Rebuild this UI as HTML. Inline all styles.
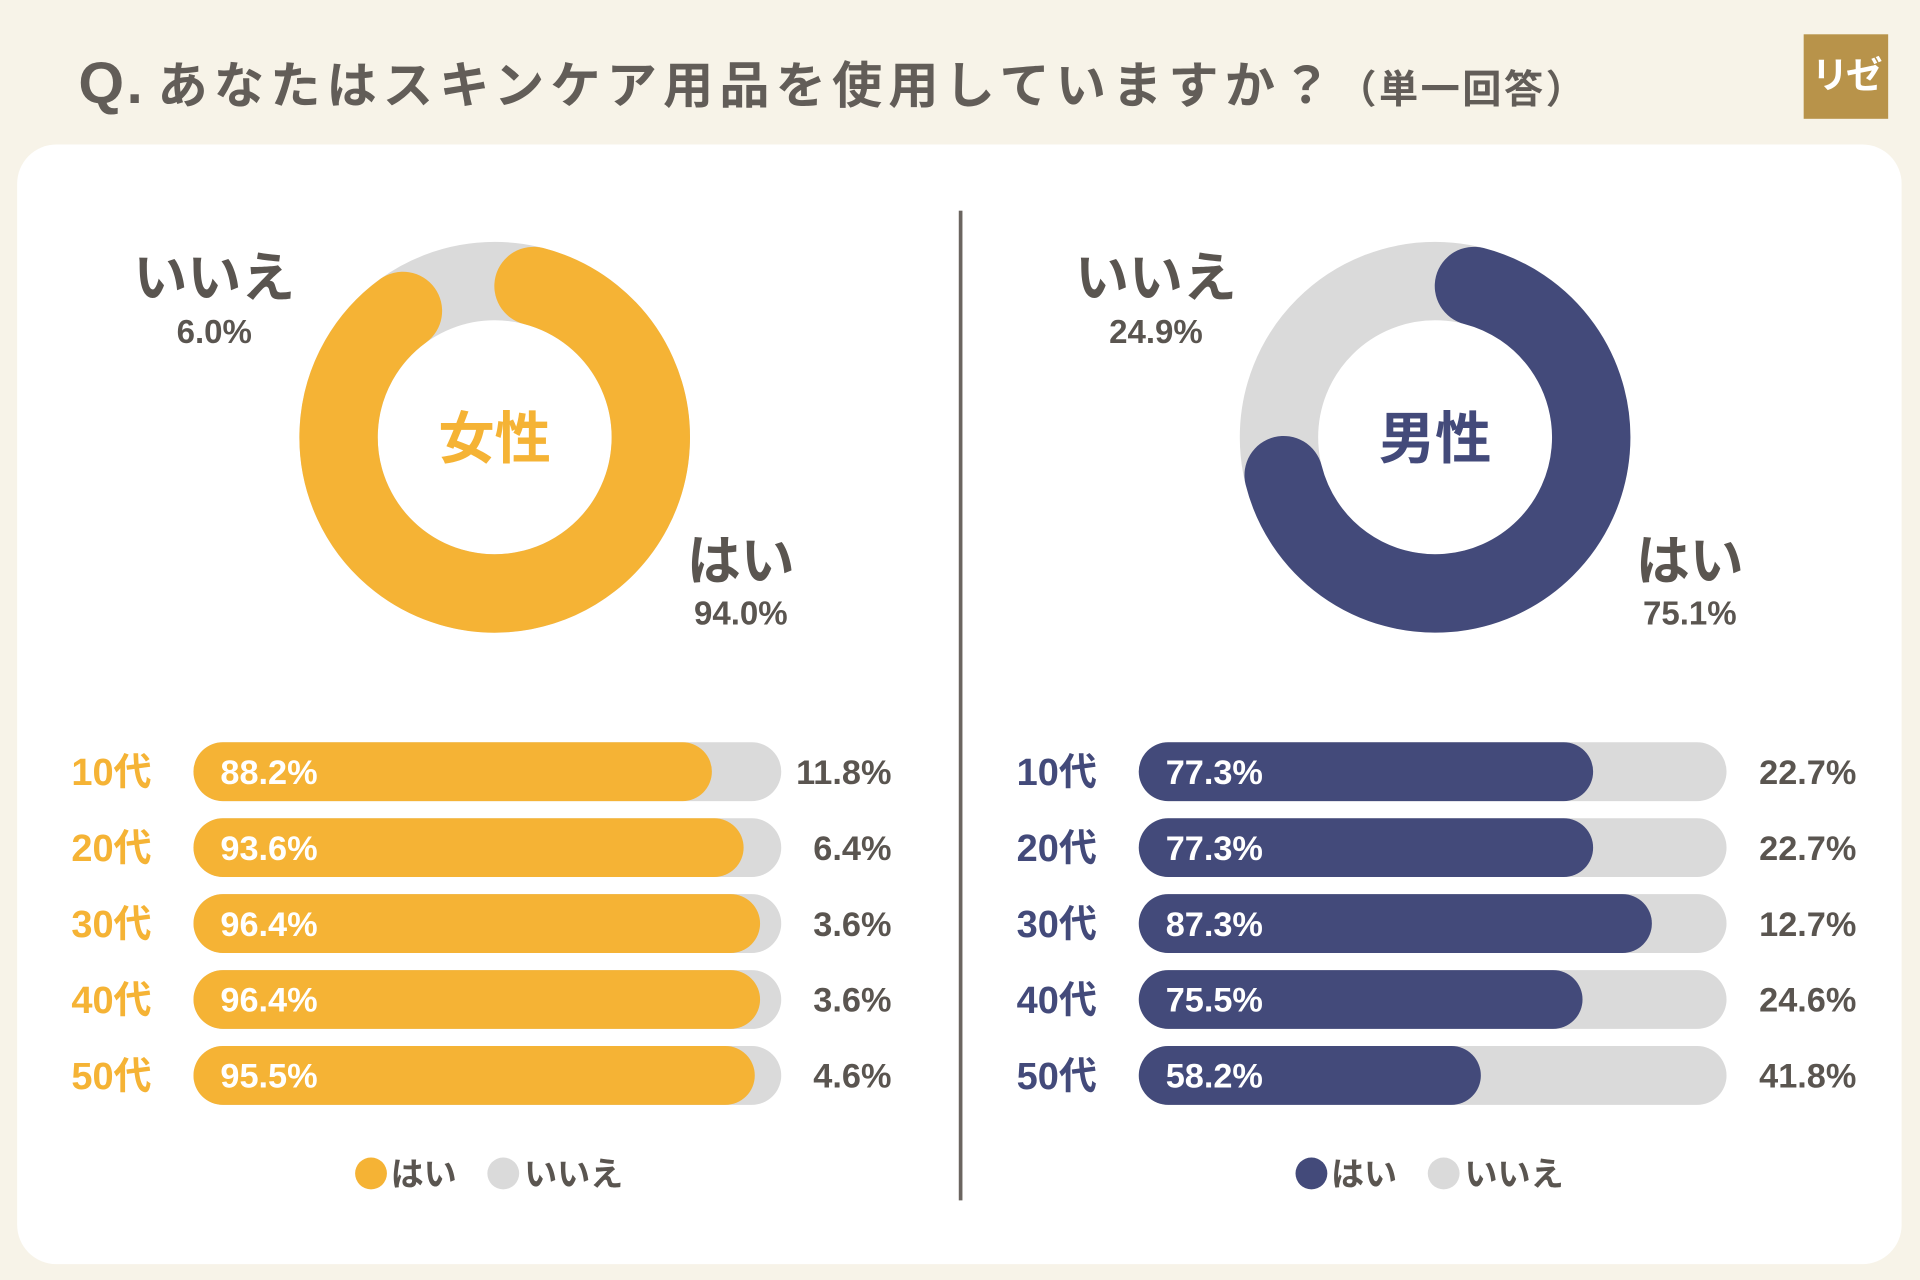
<!DOCTYPE html>
<html><head><meta charset="utf-8"><style>
html,body{margin:0;padding:0;width:1920px;height:1280px;overflow:hidden;background:#f7f3e8;}
#wrap{position:absolute;left:0;top:0;width:1568px;height:1045px;transform:scale(1.22449,1.22488);transform-origin:0 0;font-family:"Liberation Sans","Noto Sans CJK JP",sans-serif;color:#5a5550;}
.abs{position:absolute;white-space:nowrap;}
</style></head><body>
<div id="wrap">
  <div class="abs" style="left:64px;top:36px;font-size:41px;font-weight:bold;letter-spacing:5px;color:#625d58;"><span style="font-size:48px;letter-spacing:2px;margin-right:10px">Q.</span>あなたはスキンケア用品を使用していますか？<span style="font-size:32px;letter-spacing:2px">（単一回答）</span></div>
  <div class="abs" style="left:1473px;top:28px;width:69px;height:69px;background:#b8934a;color:#fff;font-size:30px;font-weight:bold;text-align:center;line-height:69px;letter-spacing:-2px;">リゼ</div>
  <div class="abs" style="left:14px;top:118px;width:1539px;height:914px;background:#fff;border-radius:32px;"></div>
  <div class="abs" style="left:783px;top:172px;width:3px;height:808px;background:#6b6560;"></div>
  <svg id="chart" class="abs" style="left:0;top:0" width="1568" height="1045"></svg>
</div>
<script>
const genders = ["女性","男性"];
const donutYes = [94.0, 75.1];
const donutNo = [6.0, 24.9];
const ageLabels = ["10代","20代","30代","40代","50代"];
const femaleYes = [88.2, 93.6, 96.4, 96.4, 95.5];
const femaleNo = [11.8, 6.4, 3.6, 3.6, 4.6];
const maleYes = [77.3, 77.3, 87.3, 75.5, 58.2];
const maleNo = [22.7, 22.7, 12.7, 24.6, 41.8];

const NS="http://www.w3.org/2000/svg";
const svg=document.getElementById('chart');
const FONT='"Liberation Sans","Noto Sans CJK JP",sans-serif';
function mk(tag,attrs,parent){const e=document.createElementNS(NS,tag);for(const k in attrs)e.setAttribute(k,attrs[k]);(parent||svg).appendChild(e);return e;}
function txt(s,x,y,size,fill,anchor){const t=mk('text',{x:x,y:y,'font-size':size,'font-weight':'bold',fill:fill,'text-anchor':anchor||'start','font-family':FONT});t.textContent=s;return t;}
const colors=["#f5b335","#434a7a"], gray="#dadada", textC="#5a5550";
const panels=[
 {cx:404,cy:357,noX:175,yesX:605,trackX:158,labX:91,rightX:728,yes:femaleYes,no:femaleNo,legX:303},
 {cx:1172,cy:357,noX:944,yesX:1380,trackX:930,labX:863,rightX:1516,yes:maleYes,no:maleNo,legX:1071}
];
const R=127.5, SW=64, trackW=480, barH=48, rowY0=630, rowStep=62;
const capPct = 4;
function angPt(cx,cy,r,pct){const a=(pct/100)*2*Math.PI-Math.PI/2;return [cx+r*Math.cos(a),cy+r*Math.sin(a)];}
panels.forEach((p,i)=>{
  const c=mk('circle',{cx:p.cx,cy:p.cy,r:R,fill:'none',stroke:gray,'stroke-width':SW});
  
  
  const pct=donutYes[i];
  const a0=capPct, a1=pct-capPct;
  const s=angPt(p.cx,p.cy,R,a0), e=angPt(p.cx,p.cy,R,a1);
  const arc=mk('path',{d:`M${s[0]},${s[1]} A${R},${R} 0 ${(a1-a0)>50?1:0} 1 ${e[0]},${e[1]}`,fill:'none',stroke:colors[i],'stroke-width':SW,'stroke-linecap':'round'});
  
  
  const g=txt(genders[i],p.cx,p.cy+17,46,colors[i],'middle');
  
  
  let t=txt('いいえ',p.noX,p.cy-115,44,textC,'middle');
  
  
  t=txt(donutNo[i].toFixed(1)+'%',p.noX,p.cy-77,27,textC,'middle');
  
  
  t=txt('はい',p.yesX,p.cy+116,44,textC,'middle');
  
  
  t=txt(donutYes[i].toFixed(1)+'%',p.yesX,p.cy+153,27,textC,'middle');
  
  
  ageLabels.forEach((a,j)=>{
    const y=rowY0+j*rowStep;
    let l=txt(a,p.labX,y+11,31,colors[i],'middle');
    
    
    const tr=mk('rect',{x:p.trackX,y:y-barH/2,width:trackW,height:barH,rx:barH/2,fill:gray});
    
    
    const b=mk('rect',{x:p.trackX,y:y-barH/2,width:trackW*p.yes[j]/100,height:barH,rx:barH/2,fill:colors[i]});
    
    
    l=txt(p.yes[j].toFixed(1)+'%',p.trackX+22,y+10,28,'#fff','start');
    
    
    l=txt(p.no[j].toFixed(1)+'%',p.rightX,y+10,28,textC,'end');
    
    
  });
  let lc=mk('circle',{cx:p.legX,cy:958,r:13,fill:colors[i]});
  
  
  let lt=txt('はい',p.legX+16,968,27,textC,'start');
  
  
  lc=mk('circle',{cx:p.legX+108,cy:958,r:13,fill:gray});
  
  
  lt=txt('いいえ',p.legX+125,968,27,textC,'start');
  
  
});
</script>
</body></html>
